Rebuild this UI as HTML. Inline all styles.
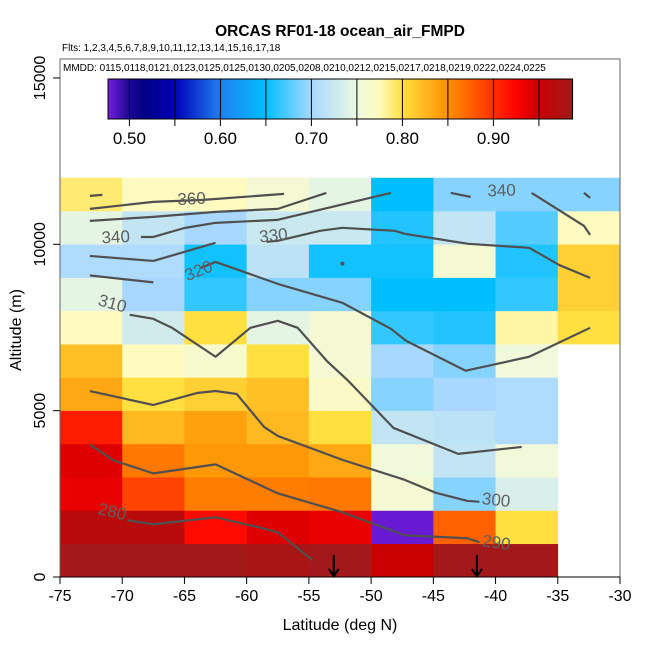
<!DOCTYPE html>
<html><head><meta charset="utf-8"><style>
body{margin:0;background:#fff;}
svg{display:block;font-family:"Liberation Sans",sans-serif;}
</style></head><body>
<svg id="chart" width="650" height="650" viewBox="0 0 650 650" xmlns="http://www.w3.org/2000/svg">
<text x="340" y="36" text-anchor="middle" font-size="15.5" font-weight="bold">ORCAS RF01-18 ocean_air_FMPD</text>
<text x="62" y="51" font-size="10">Flts: 1,2,3,4,5,6,7,8,9,10,11,12,13,14,15,16,17,18</text>
<g id="cells"></g>
<g id="contours"></g>
<rect x="60" y="59" width="560" height="91" fill="#fff"/>
<text x="63" y="71" font-size="10">MMDD: 0115,0118,0121,0123,0125,0125,0130,0205,0208,0210,0212,0215,0217,0218,0219,0222,0224,0225</text>
<g id="cbar"></g>
<rect x="60" y="59" width="560" height="518" fill="none" stroke="#666" stroke-width="1"/>
<g id="axes"></g>
<text x="340" y="630" text-anchor="middle" font-size="16">Latitude (deg N)</text>
<text transform="translate(21,330) rotate(-90)" text-anchor="middle" font-size="16">Altitude (m)</text>
</svg>
<script>
const latEdges=[-75,-70,-65,-60,-55,-50,-45,-40,-35,-30];
const altEdges=[0,1000,2000,3000,4000,5000,6000,7000,8000,9000,10000,11000,12000];
// rows from altitude 0-1000 (row0) to 11000-12000 (row11); null = no data
const row0=[0.985,0.985,0.985,0.98,0.985,0.95,0.985,0.985,null];
const row1=[0.965,0.965,0.92,0.94,0.935,0.48,0.875,0.80,null];
const row2=[0.935,0.89,0.86,0.86,0.862,0.76,0.69,0.735,null];
const row3=[0.94,0.862,0.845,0.845,0.835,0.755,0.72,0.755,null];
const row4=[0.91,0.825,0.84,0.825,0.80,0.72,0.715,0.705,null];
const row5=[0.835,0.80,0.81,0.82,0.77,0.69,0.70,0.705,null];
const row6=[0.82,0.775,0.765,0.80,0.76,0.70,0.69,0.755,null];
const row7=[0.775,0.73,0.80,0.745,0.76,0.665,0.66,0.78,0.80];
const row8=[0.745,0.70,0.665,0.69,0.69,0.65,0.65,0.665,0.81];
const row9=[0.705,0.705,0.655,0.715,0.655,0.655,0.76,0.66,0.81];
const row10=[0.745,0.72,0.70,0.725,0.725,0.66,0.72,0.675,0.775];
const row11=[0.79,0.775,0.775,0.76,0.745,0.65,0.69,0.69,0.69];
const rows=[row0,row1,row2,row3,row4,row5,row6,row7,row8,row9,row10,row11];
const xTicks=[-75,-70,-65,-60,-55,-50,-45,-40,-35,-30];
const yTicks=[0,5000,10000,15000];
const cbTicks=[0.50,0.60,0.70,0.80,0.90];
const cbLines=[0.50,0.55,0.60,0.65,0.70,0.75,0.80,0.85,0.90,0.95];
// contour lines: [lat, alt] points
const c360a=[[-72.6,11455],[-71.6,11485]];
const c360b=[[-72.6,11065],[-67.5,11275],[-63.5,11335],[-57,11515]];
const c350=[[-72.6,10705],[-67.5,10825],[-62.5,10975],[-57.5,11065],[-53.6,11545]];
const c340=[[-68.5,10220],[-67.5,10220],[-65,10490],[-62.5,10645],[-57.5,10735],[-48.4,11545]];
const c340b=[[-43.6,11545],[-42,11425]];
const c340c=[[-37.1,11545],[-32.9,10555],[-32.4,10285]];
const c340d=[[-32.9,11545],[-32.4,11395]];
const c330=[[-72.6,9650],[-67.5,9500],[-62.5,10045]];
const c330b=[[-58.4,10075],[-57.5,10105],[-54.1,10405],[-52.3,10495],[-48.1,10405],[-47.3,10315],[-42.2,10015],[-37.3,9895],[-34.9,9380],[-32.4,8990]];
const c320=[[-72.6,9065],[-67.5,8855]];
const c320b=[[-63.7,9290],[-62.5,9470],[-57.5,8810],[-52.3,8240],[-48.4,7460],[-47.2,7100],[-42.4,6200],[-37.3,6620],[-32.4,7490]];
const c310=[[-69.4,7880],[-67.5,7760],[-66,7490],[-62.5,6620],[-59.7,7490],[-57.5,7700],[-55.9,7490],[-53.5,6470],[-51.9,5920],[-48.2,4480],[-43,3700],[-37.9,3910]];
const c300=[[-72.6,5590],[-67.5,5170],[-64,5530],[-62.5,5590],[-60.8,5500],[-58.6,4510],[-57.5,4240],[-52.3,3520],[-47.3,2920],[-44.8,2530],[-42.3,2290],[-41.3,2260]];
const c290=[[-72.6,3985],[-70.7,3505],[-67.5,3115],[-62.5,3385],[-57.5,2515],[-52.3,1945],[-47.3,1255],[-42.3,1165],[-41.3,1045]];
const c280=[[-69.6,1705],[-67.5,1585],[-62.5,1795],[-59,1495],[-57.5,1345],[-54.7,505]];
const contourLines=[c360a,c360b,c350,c340,c340b,c340c,c340d,c330,c330b,c320,c320b,c310,c300,c290,c280];
const contourLabels=[["360",-64.4,11200,-3],["340",-70.5,10050,-3],["330",-57.8,10100,-6],["320",-63.7,9050,-22],["310",-70.9,8060,15],["300",-40,2150,6],["290",-40,870,8],["280",-70.9,1800,13],["340",-39.5,11450,-2]];
const arrowsLat=[-53,-41.5];

const X=v=>60+(v+75)*(560/45);
const Y=v=>577-v*0.03327;
const CB=v=>129.4+(v-0.5)*910;
const stops=[[0.474,[128,32,232]],[0.50,[24,8,140]],[0.52,[0,0,136]],[0.55,[0,0,184]],[0.60,[32,128,240]],[0.65,[0,191,255]],[0.70,[168,216,255]],[0.75,[236,248,224]],[0.775,[255,251,192]],[0.80,[255,224,64]],[0.85,[255,144,0]],[0.90,[255,48,0]],[0.925,[255,0,0]],[0.95,[200,0,0]],[0.988,[160,26,26]]];
function cmap(v){
  if(v<=stops[0][0])return 'rgb('+stops[0][1]+')';
  for(let i=1;i<stops.length;i++){if(v<=stops[i][0]){const a=stops[i-1],b=stops[i],t=(v-a[0])/(b[0]-a[0]);
    return 'rgb('+a[1].map((c,k)=>Math.round(c+(b[1][k]-c)*t)).join(',')+')';}}
  return 'rgb('+stops[stops.length-1][1]+')';
}
const NS='http://www.w3.org/2000/svg';
function mk(tag,attrs,parent){const e=document.createElementNS(NS,tag);for(const k in attrs)e.setAttribute(k,attrs[k]);parent.appendChild(e);return e;}
const gc=document.getElementById('cells');
rows.forEach((r,ri)=>r.forEach((v,ci)=>{if(v===null)return;
  const e=mk('rect',{x:X(latEdges[ci]),y:Y(altEdges[ri+1]),width:X(latEdges[ci+1])-X(latEdges[ci])+0.3,height:Y(altEdges[ri])-Y(altEdges[ri+1])+0.3,fill:cmap(v)},gc);
  
  
}));
const gl=document.getElementById('contours');
contourLines.forEach(l=>{
  const e=mk('polyline',{points:l.map(p=>X(p[0])+','+Y(p[1])).join(' '),fill:'none',stroke:'#505050','stroke-width':2.2,'stroke-linejoin':'round'},gl);
  
  
});
{const e=mk('circle',{cx:X(-52.3),cy:Y(9420),r:2,fill:'#505050'},gl);

}
contourLabels.forEach(l=>{
  const e=mk('text',{x:X(l[1]),y:Y(l[2]),'font-size':17,fill:'#606060','text-anchor':'middle',transform:'rotate('+l[3]+' '+X(l[1])+' '+Y(l[2])+')'},gl);
  e.textContent=l[0];
  
  
});
arrowsLat.forEach(a=>{
  const x=X(a);
  const e=mk('path',{d:'M'+x+' 555 L'+x+' 576 M'+(x-5)+' 569 L'+x+' 576 L'+(x+5)+' 569',stroke:'#000','stroke-width':2,fill:'none'},gl);
  
  
});
// colorbar
const gb=document.getElementById('cbar');
const defs=mk('defs',{},gb);
const grad=mk('linearGradient',{id:'cbg',x1:0,x2:1,y1:0,y2:0},defs);
const lo=0.4765,hi=0.987;
for(let i=0;i<=60;i++){const v=lo+(hi-lo)*i/60;mk('stop',{offset:(i/60),'stop-color':cmap(v)},grad);}
{const e=mk('rect',{x:CB(lo),y:79,width:CB(hi)-CB(lo),height:40,fill:'url(#cbg)',stroke:'#000','stroke-width':1},gb);

}
cbLines.forEach(v=>{const x=CB(v);
  const e=mk('line',{x1:x,x2:x,y1:79,y2:126,stroke:'#000','stroke-width':1},gb);
  
  
});
cbTicks.forEach(v=>{
  const e=mk('text',{x:CB(v),y:144,'font-size':17,'text-anchor':'middle'},gb);
  e.textContent=v.toFixed(2);
  
  
});
// axes
const ga=document.getElementById('axes');
xTicks.forEach(v=>{const x=X(v);
  const t=mk('line',{x1:x,x2:x,y1:577,y2:584,stroke:'#000'},ga);
  
  
  const e=mk('text',{x:x,y:601,'font-size':16,'text-anchor':'middle'},ga);
  e.textContent=v;
  
  
});
{const e=mk('line',{x1:60,x2:620,y1:577,y2:577,stroke:'#000'},ga);

}
yTicks.forEach(v=>{const y=Y(v);
  const t=mk('line',{x1:53,x2:60,y1:y,y2:y,stroke:'#000'},ga);
  
  
  const e=mk('text',{x:0,y:0,'font-size':16,'text-anchor':'middle',transform:'translate(45,'+y+') rotate(-90)'},ga);
  e.textContent=v;
  
  
});
</script>
</body></html>
